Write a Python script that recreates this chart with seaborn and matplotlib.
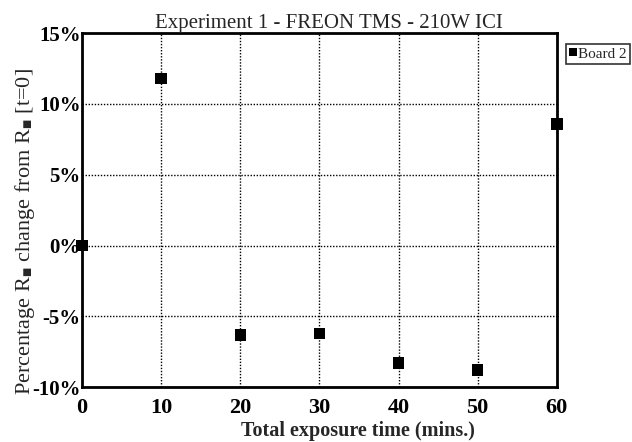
import matplotlib
matplotlib.use('Agg')
import matplotlib.pyplot as plt
import seaborn as sns
import pandas as pd
from matplotlib.ticker import PercentFormatter

sns.set_theme(style='ticks')
plt.rcParams['font.family'] = ['Liberation Serif', 'DejaVu Serif']
plt.rcParams['mathtext.fontset'] = 'custom'
plt.rcParams['mathtext.rm'] = 'Liberation Serif'
plt.rcParams['axes.unicode_minus'] = False

# data
exposure_min = [0, 10, 20, 30, 40, 50, 60]
change_pct = [0.0, 11.8, -6.3, -6.2, -8.3, -8.8, 8.6]
series_name = 'Board 2'

df = pd.DataFrame({'time': exposure_min, 'change': change_pct, 'board': series_name})

fig = plt.figure(figsize=(6.32, 4.42), dpi=100)
ax = fig.add_axes([0.130, 0.124, 0.751, 0.801])

sns.scatterplot(data=df, x='time', y='change', hue='board', palette=['black'],
                marker='s', s=70, edgecolor='black', linewidth=0, ax=ax,
                clip_on=False, zorder=3)

ax.set_xlim(0, 60)
ax.set_ylim(-10, 15)
ax.set_xticks(range(0, 61, 10))
ax.set_yticks(range(-10, 16, 5))
ax.yaxis.set_major_formatter(PercentFormatter(decimals=0))
ax.grid(True, color='black', linestyle=(0, (1, 1.2)), linewidth=1.0)
for s in ax.spines.values():
    s.set_color('black')
    s.set_linewidth(2)
ax.tick_params(length=0, colors='black')
ax.tick_params(axis='x', pad=8)
ax.tick_params(axis='y', pad=1)
for lab in ax.get_xticklabels():
    lab.set_fontsize(16)
    lab.set_fontweight('bold')
for lab in ax.get_yticklabels():
    lab.set_fontsize(15)
    lab.set_fontweight('bold')

ax.set_title('Experiment 1 - FREON TMS - 210W ICI', fontsize=15, pad=3, x=0.52)
ax.set_xlabel('Total exposure time (mins.)', fontsize=14.5, fontweight='bold')
ax.xaxis.set_label_coords(0.58, -0.095)
ax.set_ylabel(r'Percentage R$_{\blacksquare}$ change from R$_{\blacksquare}$ [t=0]',
              fontsize=16)
ax.yaxis.set_label_coords(-0.095, 0.44)

# legend sits outside the plot, flush with the right edge as in the scan
ax.legend(loc='upper left', bbox_to_anchor=(566 / 632, 1 - 44 / 442),
          bbox_transform=fig.transFigure, frameon=True, fancybox=False,
          edgecolor='black', fontsize=11, handlelength=0.5, handletextpad=0.1,
          borderpad=0.2, borderaxespad=0, markerscale=0.7)
ax.get_legend().get_frame().set_linewidth(1.2)

fig.savefig('out.png', dpi=100)
